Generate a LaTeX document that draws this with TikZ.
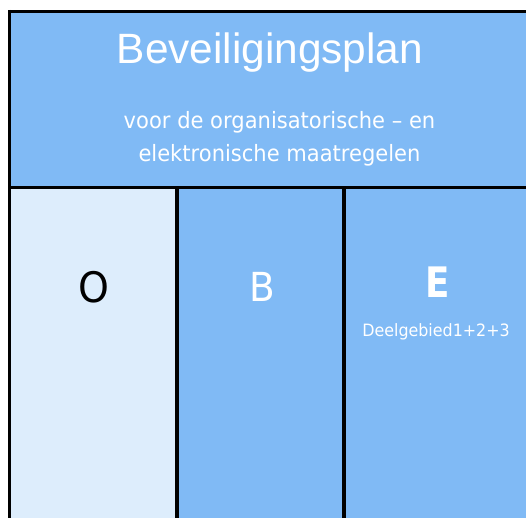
\documentclass[tikz,border=0pt]{standalone}
\usepackage{fontspec}
\setmainfont{DejaVu Sans}
\newfontfamily\titlefont{Liberation Sans}
\newfontfamily\tahfont[FakeStretch=0.935]{DejaVu Sans}
\newfontfamily\tahboldfont[FakeStretch=0.85]{DejaVu Sans Bold}
\definecolor{hdrblue}{RGB}{128,186,245}
\definecolor{paleblue}{RGB}{221,237,252}
\tikzset{
  panel/.style={anchor=north west, inner sep=0pt, outer sep=0pt},
  border/.style={draw=black, line width=3pt},
  divider/.style={draw=black, line width=3.8pt},
  wtext/.style={text=white, inner sep=0pt, anchor=base},
}
\begin{document}
\begin{tikzpicture}[x=1pt,y=-1pt]
\useasboundingbox[fill=white] (0,0) rectangle (526,517);
\node[panel, fill=hdrblue, minimum width=523pt, minimum height=176pt] (header) at (9.5,11.3) {};
\node[panel, fill=paleblue, minimum width=168pt, minimum height=335pt] (colO) at (9.5,187.3) {};
\node[panel, fill=hdrblue, minimum width=167pt, minimum height=335pt] (colB) at (177.3,187.3) {};
\node[panel, fill=hdrblue, minimum width=188pt, minimum height=335pt] (colE) at (344.3,187.3) {};
\draw[border] (header.north west) -- (header.north east);
\draw[border] ([yshift=1.5pt]header.north west) -- (colO.south west);
\draw[border] (header.south west) -- (header.south east);
\draw[divider] (colB.north west) -- (colB.south west);
\draw[divider] (colE.north west) -- (colE.south west);
\node[wtext, font=\titlefont\fontsize{42.4}{50}\selectfont] (title) at (270,63) {Beveiligingsplan};
\node[wtext, font=\tahfont\fontsize{22.5}{27}\selectfont] (sub1) at (279.5,128) {voor de organisatorische – en};
\node[wtext, font=\tahfont\fontsize{22.5}{27}\selectfont] (sub2) at (279.5,161.5) {elektronische maatregelen};
\node[wtext, text=black, font=\tahfont\fontsize{42}{50}\selectfont] (lO) at (93.5,302) {O};
\node[wtext, font=\tahfont\fontsize{40}{50}\selectfont] (lB) at (262,301) {B};
\node[wtext, font=\tahboldfont\fontsize{42}{50}\selectfont] (lE) at (438,297.7) {E};
\node[wtext, font=\tahfont\fontsize{17}{20}\selectfont] (deel) at (436,336.5) {Deelgebied1+2+3};
\end{tikzpicture}
\end{document}
